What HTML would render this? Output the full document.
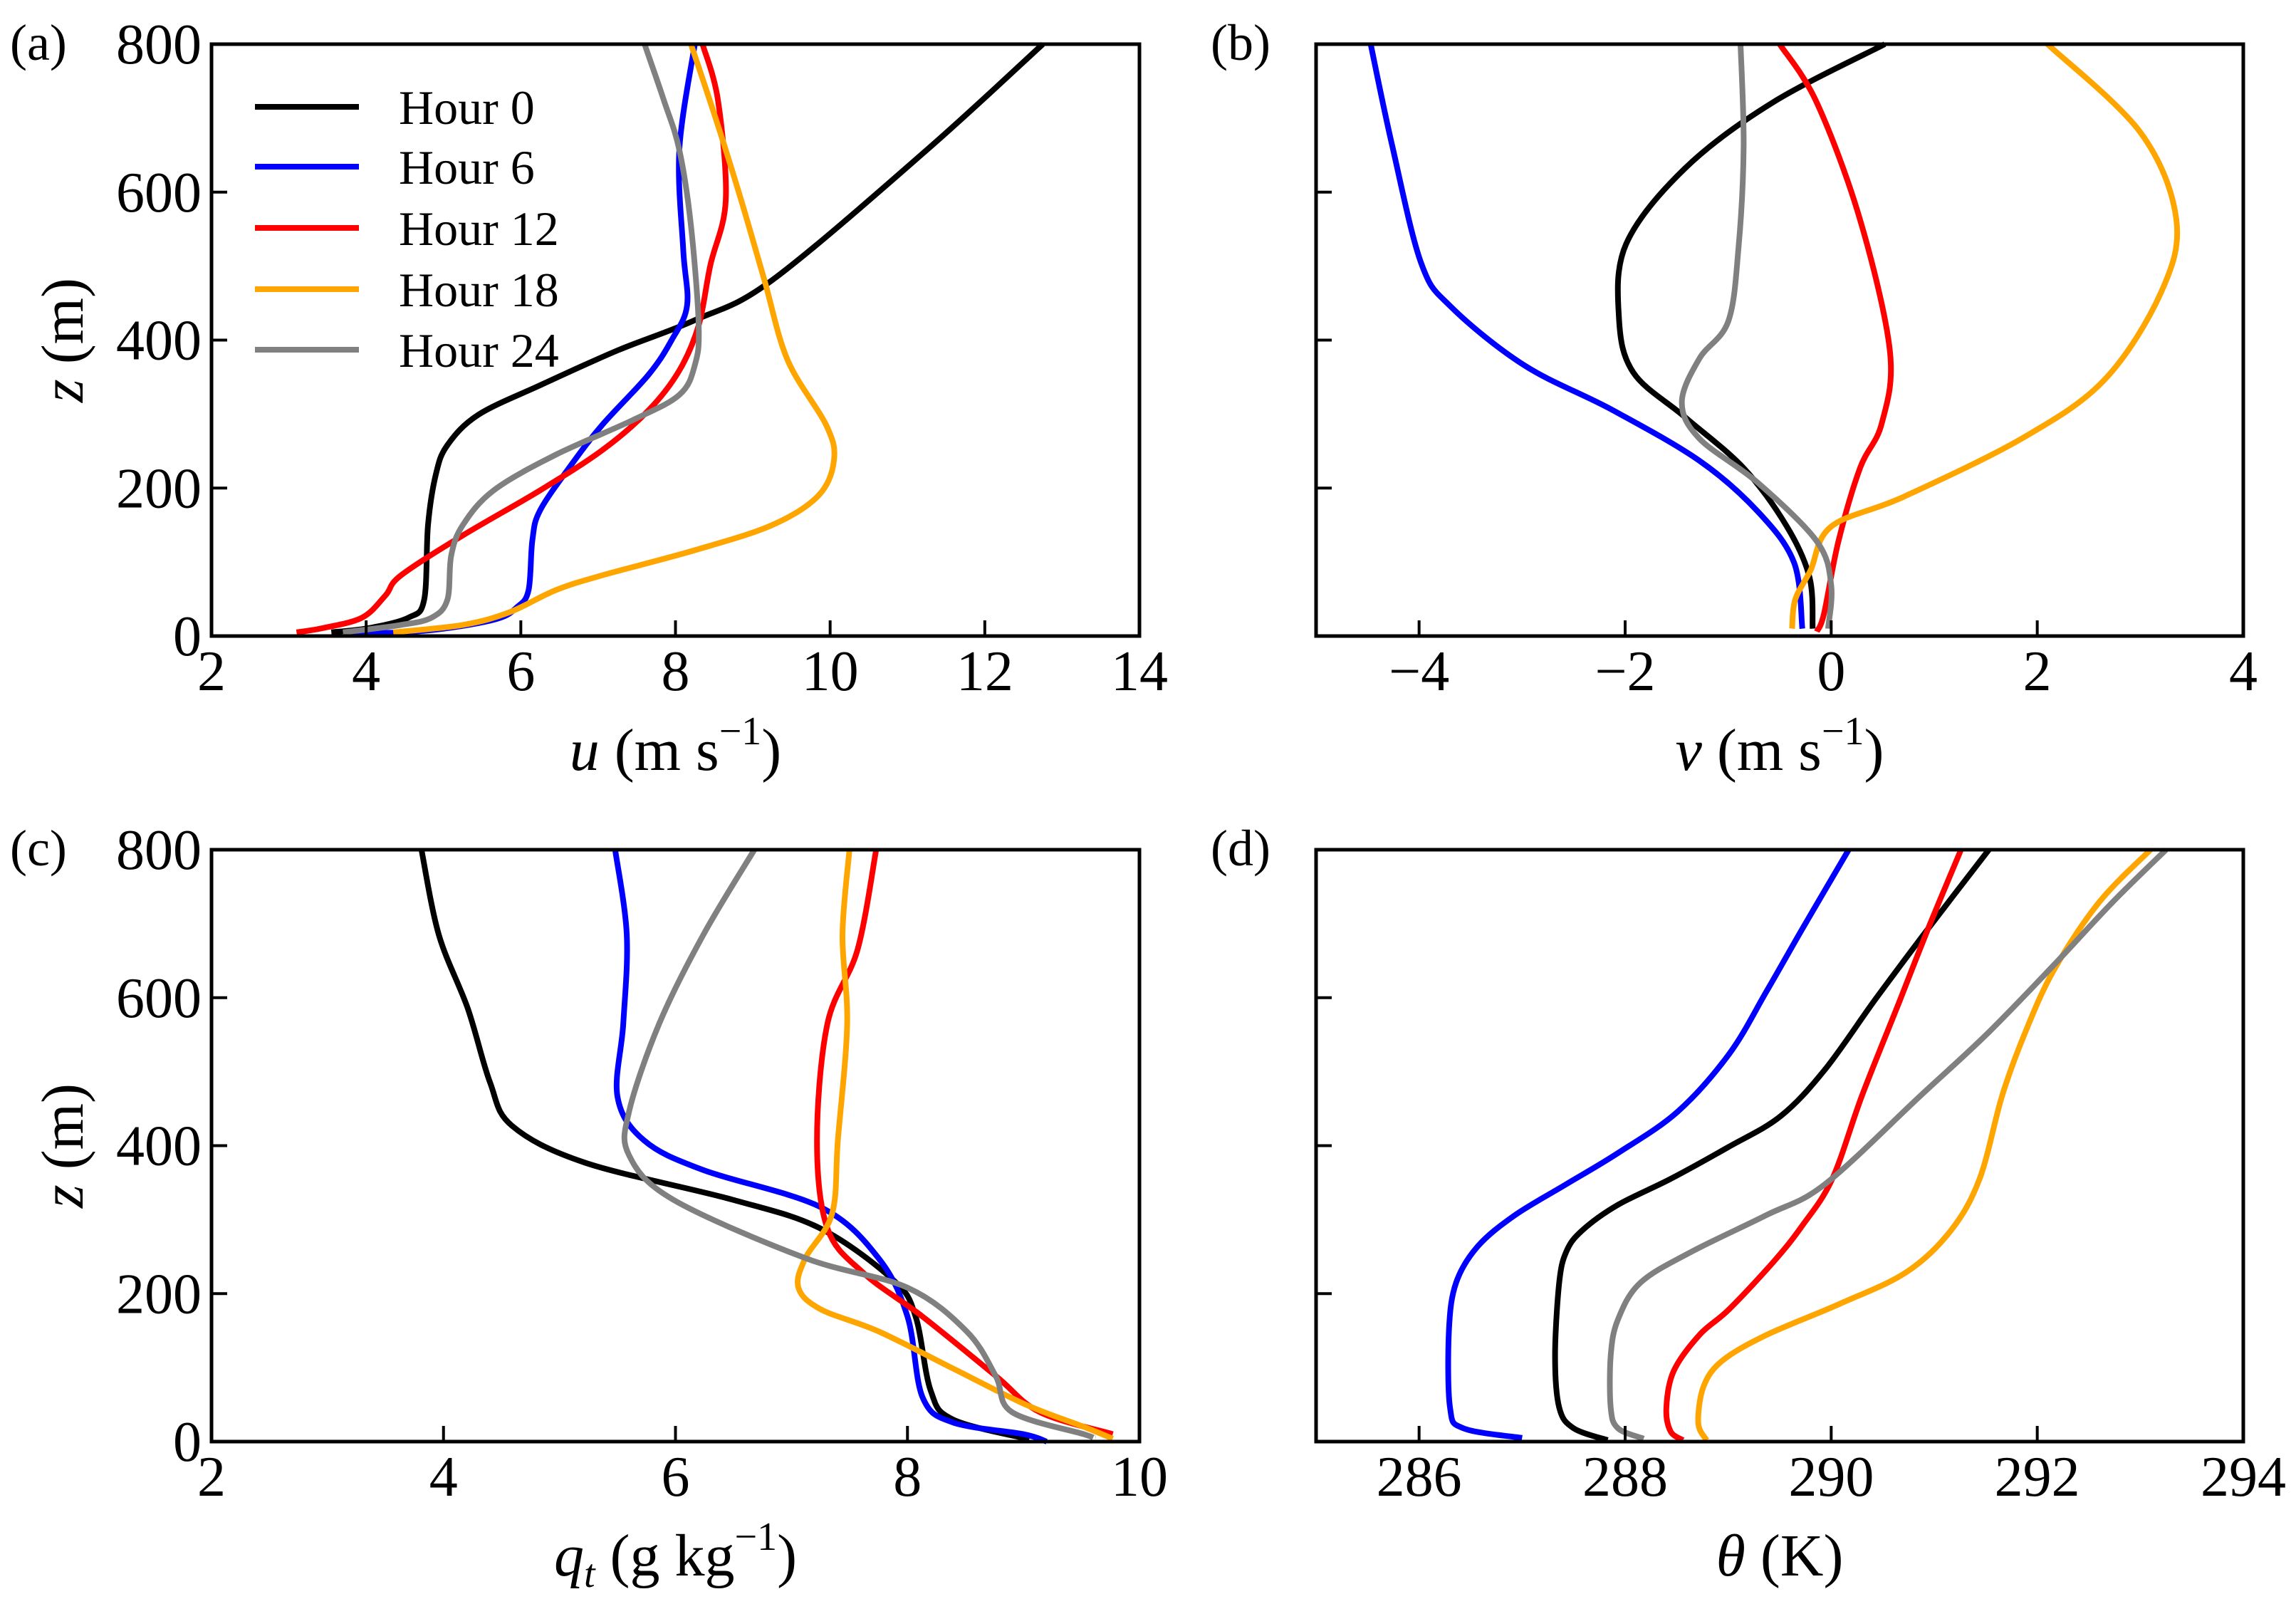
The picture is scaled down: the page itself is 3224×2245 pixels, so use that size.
<!DOCTYPE html>
<html><head><meta charset="utf-8"><style>
html,body{margin:0;padding:0;background:#fff}
svg{display:block;font-family:"Liberation Serif",serif}
</style></head><body>
<svg id="fig" width="3224" height="2245" viewBox="0 0 3224 2245" xmlns="http://www.w3.org/2000/svg"></svg>
<script>
const seriesNames = ["Hour 0","Hour 6","Hour 12","Hour 18","Hour 24"];
const seriesColors = ["#000000","#0000ff","#ff0000","#ffa500","#808080"];
// panel (a): u (m/s) vs z (m), pairs [value, z]
const uH0=[[3.55,5],[4.05,11],[4.55,25],[4.75,49],[4.8,150],[4.9,218],[5.05,258],[5.45,299],[6.25,339],[7.25,386],[8.25,427],[9.25,481],[11.25,657],[12.75,800]];
const uH6=[[3.75,3],[4.75,7],[5.65,22],[5.95,39],[6.1,62],[6.15,130],[6.25,170],[6.65,231],[7.05,285],[7.65,353],[7.95,400],[8.15,447],[8.1,522],[8.05,657],[8.25,800]];
const uH12=[[3.1,5],[3.45,11],[3.95,25],[4.25,55],[4.45,82],[5.25,136],[6.25,197],[7.05,251],[7.65,305],[8.05,359],[8.3,420],[8.45,501],[8.65,589],[8.55,724],[8.35,800]];
const uH18=[[4.35,5],[5.25,15],[5.85,32],[6.45,62],[7.05,82],[8.25,116],[9.25,150],[9.85,190],[10.05,238],[9.95,285],[9.45,373],[9.15,481],[8.85,589],[8.55,690],[8.2,800]];
const uH24=[[3.7,5],[4.45,15],[4.85,25],[5.05,49],[5.1,109],[5.25,150],[5.65,197],[6.45,245],[7.45,292],[8.05,326],[8.25,366],[8.3,420],[8.2,555],[8.05,657],[7.85,724],[7.6,800]];
// panel (b): v
const vH0=[[-0.18,10],[-0.21,79],[-0.43,148],[-0.85,227],[-1.42,296],[-1.92,356],[-2.06,430],[-1.99,530],[-1.42,632],[-0.57,721],[0.52,800]];
const vH6=[[-0.28,10],[-0.36,99],[-0.71,168],[-1.28,237],[-2.13,306],[-2.98,366],[-3.69,445],[-3.98,504],[-4.26,662],[-4.47,800]];
const vH12=[[-0.14,6],[-0.07,30],[0.07,128],[0.28,227],[0.49,287],[0.57,385],[0.28,563],[-0.14,721],[-0.5,800]];
const vH18=[[-0.38,10],[-0.35,49],[-0.2,89],[0.0,148],[0.7,188],[1.85,267],[2.65,346],[3.2,464],[3.35,563],[3.0,681],[2.1,800]];
const vH24=[[-0.03,10],[0.0,69],[-0.14,128],[-0.71,207],[-1.28,267],[-1.45,316],[-1.28,375],[-1.0,425],[-0.9,524],[-0.85,662],[-0.88,800]];
// panel (c): qt
const qH0=[[9.05,3],[8.39,30],[8.2,69],[8.07,169],[7.88,218],[7.25,288],[6.49,327],[5.22,377],[4.59,427],[4.4,486],[4.21,585],[3.96,685],[3.81,800]];
const qH6=[[9.2,0],[9.0,10],[8.39,26],[8.13,60],[8.0,169],[7.75,248],[7.25,317],[6.24,367],[5.73,407],[5.5,466],[5.55,565],[5.58,685],[5.48,800]];
const qH12=[[9.77,10],[9.14,40],[8.76,89],[8.13,169],[7.62,228],[7.31,288],[7.22,407],[7.31,565],[7.57,665],[7.73,800]];
const qH18=[[9.77,4],[9.52,20],[9.02,50],[8.39,99],[7.75,149],[7.25,179],[7.06,208],[7.12,248],[7.35,308],[7.4,407],[7.48,565],[7.44,685],[7.5,800]];
const qH24=[[9.6,5],[9.52,10],[8.9,40],[8.76,89],[8.51,149],[8.0,208],[7.12,248],[5.98,327],[5.6,387],[5.6,446],[5.86,565],[6.24,685],[6.68,800]];
// panel (d): theta
const tH0=[[287.83,2],[287.5,18],[287.36,46],[287.32,116],[287.36,215],[287.43,257],[287.58,285],[287.93,320],[288.44,355],[289.0,398],[289.51,440],[289.94,503],[290.44,600],[290.94,693],[291.53,800]];
const tH6=[[287.0,5],[286.43,18],[286.3,46],[286.29,151],[286.36,215],[286.57,264],[286.93,306],[287.43,348],[287.93,390],[288.51,446],[289.01,524],[289.37,608],[289.72,693],[290.17,800]];
const tH12=[[288.56,2],[288.44,14],[288.4,46],[288.47,95],[288.72,144],[289.01,179],[289.44,243],[289.72,292],[290.01,355],[290.3,468],[290.66,594],[290.94,693],[291.26,800]];
const tH18=[[288.79,2],[288.71,25],[288.76,74],[288.94,109],[289.37,144],[290.08,186],[290.73,229],[291.16,285],[291.44,355],[291.66,468],[291.88,552],[292.16,637],[292.6,729],[293.1,800]];
const tH24=[[288.18,4],[287.93,18],[287.86,46],[287.86,116],[287.93,165],[288.15,215],[288.65,257],[289.37,306],[289.94,348],[290.87,468],[291.52,552],[292.16,644],[292.73,729],[293.25,800]];
const zTicks=[0,200,400,600,800];
const uTicks=[2,4,6,8,10,12,14];
const vTicks=[-4,-2,0,2,4];
const qTicks=[2,4,6,8,10];
const tTicks=[286,288,290,292,294];

const NS="http://www.w3.org/2000/svg";
const svg=document.getElementById('fig');
function mk(tag,attrs,parent){const e=document.createElementNS(NS,tag);for(const k in attrs)e.setAttribute(k,attrs[k]);(parent||svg).appendChild(e);return e;}
function smooth(pts){let d="M"+pts[0][0].toFixed(1)+","+pts[0][1].toFixed(1);
 for(let i=0;i<pts.length-1;i++){const p0=pts[Math.max(0,i-1)],p1=pts[i],p2=pts[i+1],p3=pts[Math.min(pts.length-1,i+2)];
  const c1=[p1[0]+(p2[0]-p0[0])/6,p1[1]+(p2[1]-p0[1])/6],c2=[p2[0]-(p3[0]-p1[0])/6,p2[1]-(p3[1]-p1[1])/6];
  d+=" C"+c1[0].toFixed(1)+","+c1[1].toFixed(1)+" "+c2[0].toFixed(1)+","+c2[1].toFixed(1)+" "+p2[0].toFixed(1)+","+p2[1].toFixed(1);}
 return d;}
function panel(cfg){
 const g=mk('g',{});
 
 
 const L=cfg.x0,R=cfg.x1,T=cfg.y0,B=cfg.y1;
 const sx=v=>L+(v-cfg.xmin)/(cfg.xmax-cfg.xmin)*(R-L);
 const sy=z=>B-(z/800)*(B-T);
 cfg.series.forEach((s,i)=>{
  const p=mk('path',{d:smooth(s.map(q=>[sx(q[0]),sy(q[1])])),fill:'none',stroke:seriesColors[i],'stroke-width':8,'stroke-linejoin':'round'},g);
  
  
 });
 cfg.xticks.forEach(v=>{
  const x=sx(v);
  const t=mk('line',{x1:x,x2:x,y1:B,y2:B-22,stroke:'#000','stroke-width':4},g);
  
  
  const lb=mk('text',{x:x,y:B+76,'font-size':80,'text-anchor':'middle'},g);
  lb.textContent=(v<0?'\u2212'+Math.abs(v):String(v));
  
  
 });
 zTicks.forEach(z=>{
  const y=sy(z);
  const t=mk('line',{x1:L,x2:L+22,y1:y,y2:y,stroke:'#000','stroke-width':4},g);
  
  
  if(cfg.ylabels){const lb=mk('text',{x:L-14,y:y+27,'font-size':80,'text-anchor':'end'},g);
   lb.textContent=String(z);
   
   }
 });
 const fr=mk('rect',{x:L,y:T,width:R-L,height:B-T,fill:'none',stroke:'#000','stroke-width':5},g);
 
 
 const xl=mk('text',{x:(L+R)/2,y:B+188,'font-size':84,'text-anchor':'middle'},g);
 xl.innerHTML=cfg.xlabel;
 
 
 if(cfg.ylabels){const yl=mk('text',{x:0,y:0,'font-size':84,'text-anchor':'middle',transform:'translate(116,'+((T+B)/2)+') rotate(-90)'},g);
  yl.innerHTML='<tspan font-style="italic">z</tspan> (m)';
  
  }
 const pl=mk('text',{x:cfg.plx,y:T+22,'font-size':72},g);
 pl.textContent=cfg.pl;
 
 
 return g;
}
const sup='<tspan font-size="56" dy="-36">\u22121</tspan><tspan dy="36">)</tspan>';
panel({name:'panel-a',key:'u',x0:297,x1:1600,y0:62,y1:893,xmin:2,xmax:14,series:[uH0,uH6,uH12,uH18,uH24],xticks:uTicks,ylabels:true,xlabel:'<tspan font-style="italic">u</tspan> (m s'+sup,pl:'(a)',plx:14});
panel({name:'panel-b',key:'v',x0:1848,x1:3150,y0:62,y1:893,xmin:-5,xmax:4,series:[vH0,vH6,vH12,vH18,vH24],xticks:vTicks,ylabels:false,xlabel:'<tspan font-style="italic">v</tspan> (m s'+sup,pl:'(b)',plx:1700});
panel({name:'panel-c',key:'qt',x0:297,x1:1600,y0:1193,y1:2024,xmin:2,xmax:10,series:[qH0,qH6,qH12,qH18,qH24],xticks:qTicks,ylabels:true,xlabel:'<tspan font-style="italic">q</tspan><tspan font-style="italic" font-size="56" dy="16">t</tspan><tspan dy="-16"> (g kg</tspan>'+sup,pl:'(c)',plx:14});
panel({name:'panel-d',key:'theta',x0:1848,x1:3150,y0:1193,y1:2024,xmin:285,xmax:294,series:[tH0,tH6,tH12,tH18,tH24],xticks:tTicks,ylabels:false,xlabel:'<tspan font-style="italic">\u03b8</tspan> (K)',pl:'(d)',plx:1700});
// legend
const lg=mk('g',{});


const legY=[150,234,320,406,491];
seriesNames.forEach((n,i)=>{
 const e=mk('g',{},lg);
 
 
 mk('line',{x1:358,x2:504,y1:legY[i],y2:legY[i],stroke:seriesColors[i],'stroke-width':8},e);
 const t=mk('text',{x:560,y:legY[i]+24,'font-size':68},e);
 t.textContent=n;
});
</script>
</body></html>
